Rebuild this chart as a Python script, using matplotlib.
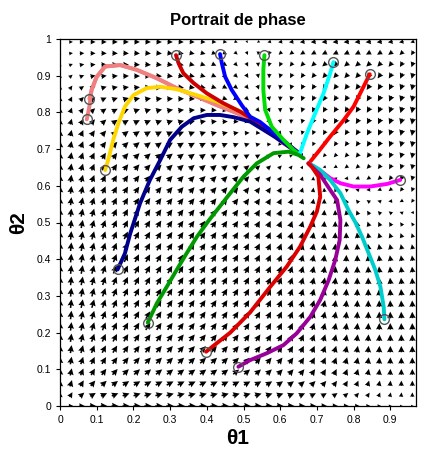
import numpy as np
import matplotlib
matplotlib.use("Agg")
import matplotlib.pyplot as plt

plt.rcParams['font.family'] = ['Liberation Sans', 'DejaVu Sans']

# axis ticks
x_ticks = [0, 0.1, 0.2, 0.3, 0.4, 0.5, 0.6, 0.7, 0.8, 0.9]
y_ticks = [0, 0.1, 0.2, 0.3, 0.4, 0.5, 0.6, 0.7, 0.8, 0.9, 1]

# sampling grid for the direction field
grid_x = np.arange(0, 0.97, 0.03)
grid_y = np.arange(0, 0.995, 0.031)

# trajectories (theta1, theta2), each from its starting point to the equilibrium
traj_salmon = [(0.073, 0.781), (0.080, 0.816), (0.086, 0.861), (0.100, 0.897), (0.123, 0.925),
               (0.164, 0.929), (0.209, 0.916), (0.264, 0.893), (0.318, 0.866), (0.373, 0.843),
               (0.427, 0.820), (0.482, 0.798), (0.545, 0.766), (0.605, 0.719), (0.657, 0.684)]
traj_salmon_b = [(0.080, 0.837), (0.086, 0.861), (0.100, 0.897), (0.123, 0.925), (0.164, 0.929),
                 (0.209, 0.916), (0.264, 0.893), (0.318, 0.866), (0.373, 0.843), (0.427, 0.820),
                 (0.482, 0.798), (0.545, 0.766), (0.605, 0.719), (0.657, 0.684)]
traj_gold = [(0.123, 0.643), (0.132, 0.673), (0.145, 0.725), (0.159, 0.770), (0.177, 0.816),
             (0.200, 0.847), (0.236, 0.866), (0.273, 0.870), (0.318, 0.863), (0.373, 0.847),
             (0.427, 0.830), (0.482, 0.807), (0.518, 0.790), (0.586, 0.741), (0.657, 0.684)]
traj_red_top = [(0.316, 0.956), (0.323, 0.934), (0.336, 0.907), (0.364, 0.880), (0.400, 0.852),
                (0.445, 0.825), (0.491, 0.802), (0.573, 0.752), (0.657, 0.684)]
traj_blue = [(0.436, 0.959), (0.441, 0.934), (0.450, 0.897), (0.468, 0.861), (0.495, 0.820),
             (0.518, 0.788), (0.545, 0.774), (0.600, 0.730), (0.657, 0.684)]
traj_navy = [(0.157, 0.372), (0.177, 0.416), (0.191, 0.469), (0.218, 0.552), (0.245, 0.616),
             (0.273, 0.670), (0.300, 0.725), (0.332, 0.761), (0.364, 0.784), (0.400, 0.793),
             (0.436, 0.793), (0.473, 0.787), (0.518, 0.775), (0.586, 0.733), (0.657, 0.684)]
traj_green = [(0.239, 0.227), (0.264, 0.280), (0.291, 0.325), (0.318, 0.371), (0.345, 0.416),
              (0.373, 0.461), (0.405, 0.505), (0.464, 0.580), (0.500, 0.625), (0.536, 0.661),
              (0.582, 0.689), (0.623, 0.693), (0.650, 0.684), (0.664, 0.675)]
traj_red_low = [(0.398, 0.148), (0.427, 0.171), (0.464, 0.200), (0.518, 0.255), (0.573, 0.325),
                (0.618, 0.380), (0.654, 0.434), (0.682, 0.489), (0.700, 0.530), (0.709, 0.570),
                (0.704, 0.625), (0.686, 0.652), (0.677, 0.661)]
traj_purple = [(0.486, 0.107), (0.518, 0.125), (0.564, 0.144), (0.609, 0.166), (0.645, 0.198),
               (0.682, 0.243), (0.709, 0.289), (0.732, 0.343), (0.750, 0.398), (0.762, 0.452),
               (0.764, 0.507), (0.755, 0.561), (0.736, 0.589), (0.709, 0.630), (0.677, 0.661)]
traj_cyan_low = [(0.884, 0.236), (0.882, 0.270), (0.873, 0.325), (0.859, 0.371), (0.841, 0.416),
                 (0.823, 0.461), (0.805, 0.500), (0.786, 0.534), (0.764, 0.580), (0.736, 0.616),
                 (0.709, 0.643), (0.686, 0.657), (0.677, 0.661)]
traj_magenta = [(0.927, 0.616), (0.891, 0.605), (0.845, 0.598), (0.800, 0.598), (0.764, 0.607),
                (0.736, 0.621), (0.714, 0.638), (0.691, 0.652), (0.677, 0.661)]
traj_red_right = [(0.844, 0.904), (0.827, 0.870), (0.800, 0.816), (0.773, 0.779), (0.736, 0.734),
                  (0.704, 0.693), (0.682, 0.666)]
traj_cyan_top = [(0.745, 0.937), (0.736, 0.906), (0.718, 0.852), (0.695, 0.797), (0.673, 0.743),
                 (0.654, 0.689)]
traj_lime = [(0.557, 0.956), (0.554, 0.916), (0.554, 0.861), (0.559, 0.807), (0.577, 0.761),
             (0.609, 0.725), (0.636, 0.698), (0.654, 0.684)]

series = [
    (traj_salmon, "#f08080"), (traj_salmon_b, "#f08080"), (traj_gold, "#ffd700"),
    (traj_red_top, "#cc0000"), (traj_navy, "#00008b"), (traj_blue, "#0000ff"),
    (traj_lime, "#00dd00"), (traj_cyan_top, "#00ffff"), (traj_red_right, "#ff0000"),
    (traj_magenta, "#ff00ff"), (traj_cyan_low, "#00cccc"), (traj_purple, "#990099"),
    (traj_red_low, "#dd0000"), (traj_green, "#009900"),
]


def rates(t1, t2):
    """Replicator-type dynamics with an interior equilibrium near (0.67, 0.67)."""
    g = (0.67 - t1) + 0.47 * (0.67 - t2)
    h = 1.6 * ((0.67 - t2) + 0.5 * (0.67 - t1))
    return t1 * (1 - t1) * g, t2 * (1 - t2) * h


fig = plt.figure(figsize=(4.24, 4.50), dpi=100)
ax = fig.add_axes([60 / 424, 44 / 450, 356 / 424, 367 / 450])

X, Y = np.meshgrid(grid_x, grid_y)
U, V = rates(X, Y)
mag = np.hypot(U, V)
safe = np.where(mag > 0, mag, 1)
length = 0.024 * np.clip((mag / mag.max()) ** 0.3, 0.3, 1)
Un = np.where(mag > 0, U / safe, 0) * length
Vn = np.where(mag > 0, V / safe, 0) * length
ax.quiver(X, Y, Un, Vn, angles="xy", scale_units="xy", scale=1, units="xy",
          width=0.0042, headwidth=4.2, headlength=4.2, headaxislength=3.8,
          color="black", pivot="middle", zorder=2)

for pts, col in series:
    arr = np.array(pts)
    ax.plot(arr[:, 0], arr[:, 1], color=col, lw=2.8, solid_capstyle="round", zorder=3)
    ax.plot(arr[0, 0], arr[0, 1], marker="o", ms=7, mfc="none", mec="#555555",
            mew=1.0, zorder=4)

ax.set_xlim(0, 0.97)
ax.set_ylim(0, 1)
ax.set_xticks(x_ticks)
ax.set_xticklabels([f"{v:g}" for v in x_ticks])
ax.set_yticks(y_ticks)
ax.set_yticklabels([f"{v:g}" for v in y_ticks])
ax.tick_params(labelsize=7.5, length=3, width=0.8, direction="out", colors="black")
for s in ax.spines.values():
    s.set_linewidth(0.9)

ax.set_title("Portrait de phase", fontsize=12, fontweight="bold", pad=10)
ax.set_xlabel("θ1", fontsize=15, fontweight="bold", labelpad=3)
ax.set_ylabel("θ2", fontsize=15, fontweight="bold", labelpad=6)

fig.savefig("out.png", dpi=100)
